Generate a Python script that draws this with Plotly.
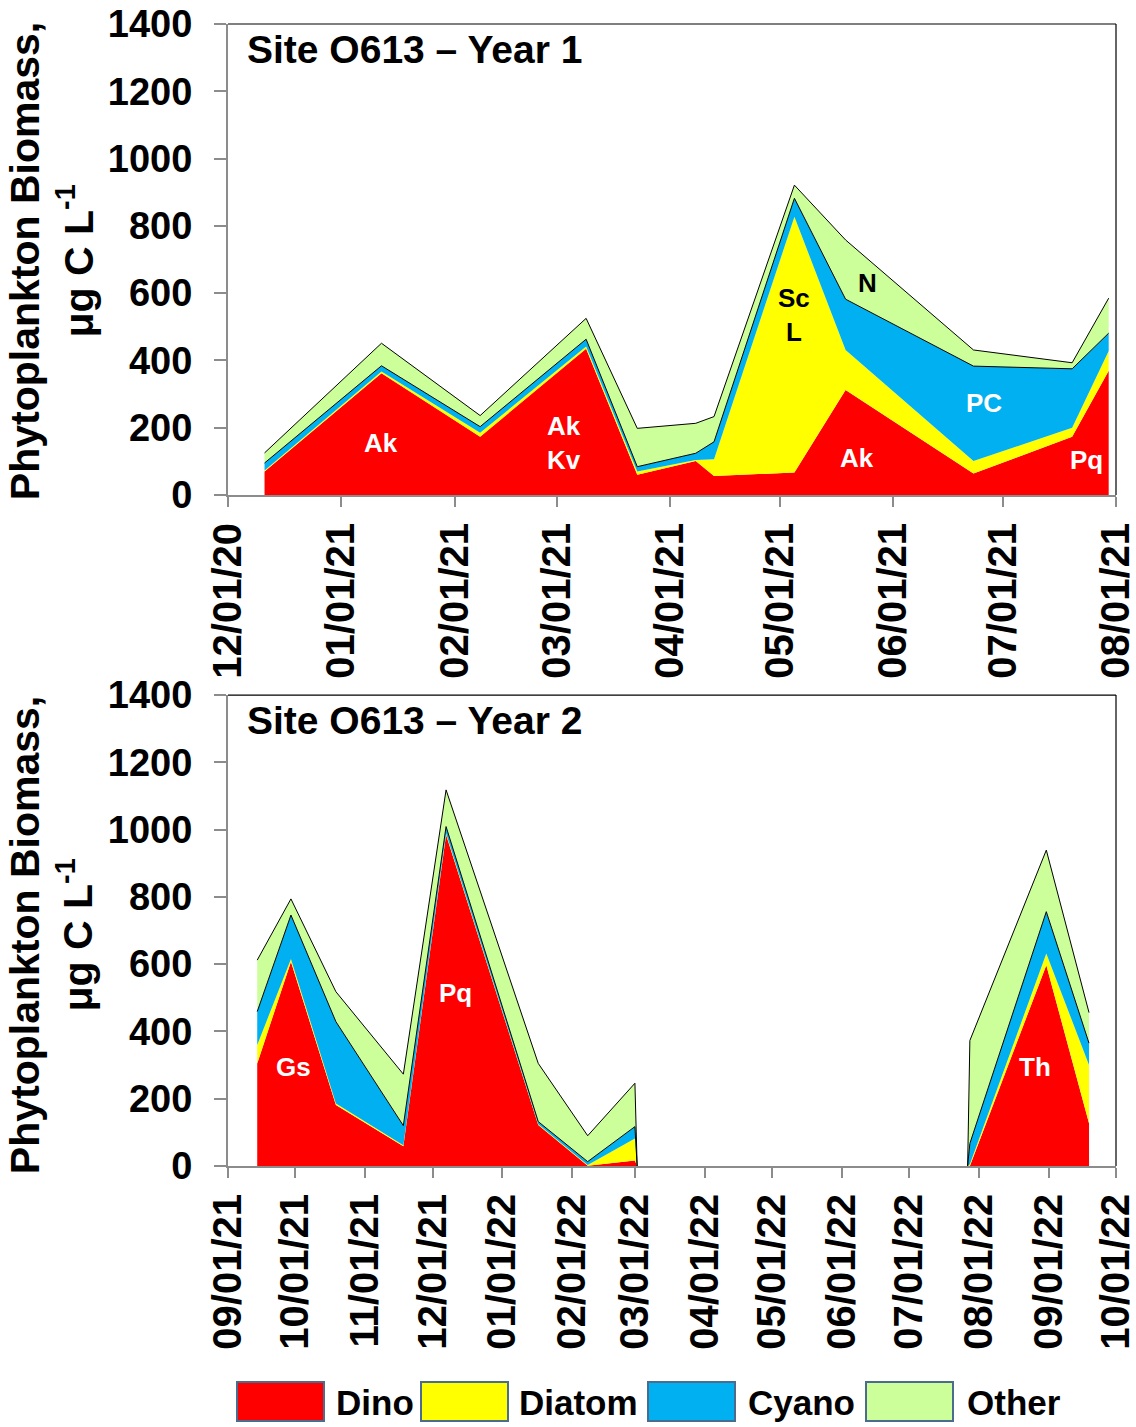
import plotly.graph_objects as go

FONT = "Liberation Sans"

# ---- Year 1 (Dec 2020 - Jul 2021): biomass by group, ug C/L ----
y1_dates = ["2020-12-11", "2021-01-12", "2021-02-08", "2021-03-09", "2021-03-23",
            "2021-04-08", "2021-04-13", "2021-05-05", "2021-05-19", "2021-06-23",
            "2021-07-20", "2021-07-30"]
y1_dino = [70, 362, 173, 435, 60, 101, 56, 67, 312, 64, 173, 369]
y1_diatom = [3, 5, 12, 6, 10, 3, 50, 760, 119, 37, 27, 59]
y1_cyano = [22, 17, 18, 22, 14, 20, 52, 55, 151, 282, 175, 53]
y1_other = [30, 67, 33, 62, 114, 89, 75, 39, 176, 48, 18, 104]

# ---- Year 2 (Sep 2021 - Sep 2022); zero rows mark the unsampled gap ----
y2_dates = ["2021-09-14", "2021-09-29", "2021-10-19", "2021-11-18", "2021-12-07",
            "2022-01-17", "2022-02-08", "2022-03-01", "2022-03-02", "2022-07-27",
            "2022-07-28", "2022-08-31", "2022-09-19"]
y2_dino = [305, 607, 181, 59, 985, 122, 1, 16, 0, 0, 0, 597, 127]
y2_diatom = [55, 8, 5, 3, 4, 2, 2, 66, 0, 0, 5, 35, 173]
y2_cyano = [99, 131, 243, 58, 20, 8, 10, 35, 0, 0, 62, 124, 65]
y2_other = [153, 48, 89, 153, 109, 173, 77, 129, 0, 0, 306, 183, 91]

groups = ["Dino", "Diatom", "Cyano", "Other"]
colors = ["#FF0000", "#FFFF00", "#00B0F0", "#CCFF99"]
outlined = [False, False, True, True]

# taxon labels drawn inside the areas: (text, date, value, colour)
y1_labels = [("Ak", "2021-01-12", 155, "white"),
             ("Ak<br>Kv", "2021-03-03", 155, "white"),
             ("Sc<br>L", "2021-05-05", 535, "black"),
             ("N", "2021-05-25", 630, "black"),
             ("PC", "2021-06-26", 273, "white"),
             ("Ak", "2021-05-22", 110, "white"),
             ("Pq", "2021-07-24", 104, "white")]
y2_labels = [("Gs", "2021-09-30", 294, "white"),
             ("Pq", "2021-12-11", 514, "white"),
             ("Th", "2022-08-26", 294, "white")]

titles = ["Site O613 \u2013 Year 1", "Site O613 \u2013 Year 2"]


def split_runs(dates, series):
    """Split a panel into separate runs wherever two consecutive rows are all zero."""
    totals = [sum(s[i] for s in series) for i in range(len(dates))]
    runs, start = [], 0
    for i in range(1, len(dates)):
        if totals[i] == 0 and totals[i - 1] == 0:
            runs.append((start, i))
            start = i
    runs.append((start, len(dates)))
    return runs


fig = go.Figure()

panels = [
    ("x", "y", y1_dates, [y1_dino, y1_diatom, y1_cyano, y1_other]),
    ("x2", "y2", y2_dates, [y2_dino, y2_diatom, y2_cyano, y2_other]),
]
for xa, ya, dates, series in panels:
    for k, (a, b) in enumerate(split_runs(dates, series)):
        for name, vals, col, edge in zip(groups, series, colors, outlined):
            fig.add_trace(go.Scatter(
                x=dates[a:b], y=vals[a:b], name=name, mode="lines",
                stackgroup=f"{ya}_{k}", fillcolor=col,
                line=dict(color="black" if edge else col, width=1 if edge else 0),
                xaxis=xa, yaxis=ya, showlegend=False,
            ))

GRAY = "#8c8c8c"
tickfont_x = dict(family=FONT, size=40, color="black", weight="bold")
tickfont_y = dict(family=FONT, size=38, color="black", weight="bold")


def xaxis_cfg(anchor, start, end):
    return dict(
        type="date", anchor=anchor, domain=[0, 1], range=[start, end],
        tick0=start, dtick="M1", tickformat="%m/%d/%y", tickangle=-90,
        ticks="outside", ticklen=10, tickwidth=1.5, tickcolor=GRAY,
        showline=True, linecolor=GRAY, linewidth=2, showgrid=False,
        zeroline=False, tickfont=tickfont_x, ticklabelstandoff=0,
        ticklabeloverflow="allow", automargin=False,
    )


def yaxis_cfg(anchor, dom):
    return dict(
        anchor=anchor, domain=dom, range=[0, 1400], dtick=200,
        ticks="outside", ticklen=12, tickwidth=1.5, tickcolor=GRAY,
        showline=True, linecolor=GRAY, linewidth=2, showgrid=False,
        zeroline=False, tickfont=tickfont_y, ticklabelstandoff=14,
        ticklabeloverflow="allow", automargin=False,
    )


fig.update_layout(
    width=1136, height=1427,
    margin=dict(l=228, r=20, t=24, b=261),
    paper_bgcolor="white", plot_bgcolor="white",
    xaxis=xaxis_cfg("y", "2020-12-01", "2021-08-01"),
    yaxis=yaxis_cfg("x", [0.5876, 1.0]),
    xaxis2=xaxis_cfg("y2", "2021-09-01", "2022-10-01"),
    yaxis2=yaxis_cfg("x2", [0.0, 0.4124]),
    showlegend=False,
)

# black frame on the top and right of each panel
for xa, ya in [("x", "y"), ("x2", "y2")]:
    xd, yd = f"{xa} domain", f"{ya} domain"
    fig.add_shape(type="line", xref=xd, yref=yd, x0=0, x1=1, y0=1, y1=1,
                  line=dict(color="black", width=1.2))
    fig.add_shape(type="line", xref=xd, yref=yd, x0=1, x1=1, y0=0, y1=1,
                  line=dict(color="black", width=1.2))

# panel titles
for (xa, ya), title in zip([("x", "y"), ("x2", "y2")], titles):
    fig.add_annotation(text=title, xref=f"{xa} domain", yref=f"{ya} domain",
                       x=0.019, y=0.945, xanchor="left", yanchor="middle",
                       showarrow=False,
                       font=dict(family=FONT, size=39, color="black", weight="bold"))

# taxon labels
for (xa, ya), labels in zip([("x", "y"), ("x2", "y2")], [y1_labels, y2_labels]):
    for txt, d, v, c in labels:
        fig.add_annotation(text=txt, x=d, y=v, xref=xa, yref=ya, showarrow=False,
                           font=dict(family=FONT, size=26, color=c, weight="bold"))

# y-axis titles
for ypos in [0.7925, 0.2023]:
    fig.add_annotation(
        text="Phytoplankton Biomass,<br>\u03bcg C L<sup>-1</sup>",
        xref="paper", yref="paper", x=-0.198, y=ypos,
        xanchor="center", yanchor="middle", textangle=-90, showarrow=False,
        font=dict(family=FONT, size=41, color="black", weight="bold"),
    )

# legend: swatches and names along the bottom
leg_box_left = [237, 421, 648, 866]
leg_text_left = [334, 517, 746, 965]
W, H_PLOT = 888, 1142


def px_x(p):
    return (p - 228) / W


def px_y(p):
    return (1166 - p) / H_PLOT


for name, col, bx, tx in zip(groups, colors, leg_box_left, leg_text_left):
    fig.add_shape(type="rect", xref="paper", yref="paper",
                  x0=px_x(bx), x1=px_x(bx + 87), y0=px_y(1382), y1=px_y(1421),
                  fillcolor=col, line=dict(color="#4a6c8f", width=2))
    fig.add_annotation(text=name, xref="paper", yref="paper",
                       x=px_x(tx), y=px_y(1402), xanchor="left", yanchor="middle",
                       showarrow=False,
                       font=dict(family=FONT, size=35, color="black", weight="bold"))

fig.write_html("out.html")
